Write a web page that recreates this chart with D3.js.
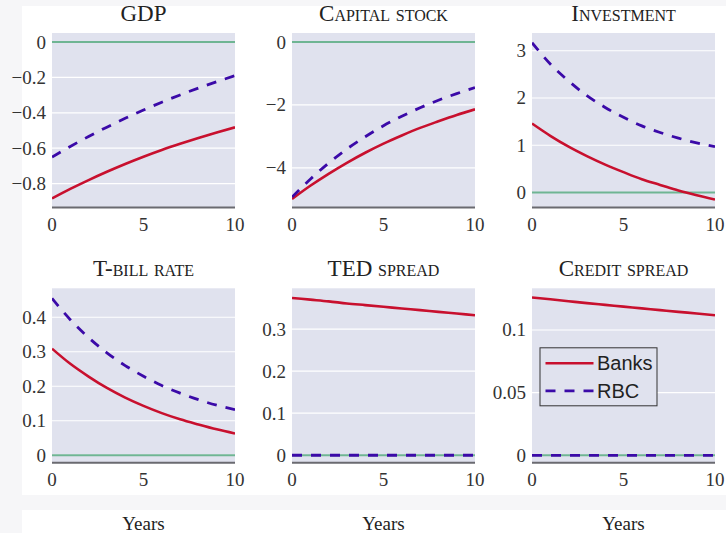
<!DOCTYPE html>
<html>
<head>
<meta charset="utf-8">
<script src="https://cdn.jsdelivr.net/npm/d3@7"></script>
<style>
	body { margin: 0; background: #f6f6f8; }
	svg { display: block; }
	.tick-label { font-family: 'Liberation Serif', 'DejaVu Serif', serif; font-size: 19px; fill: #333; }
	.panel-title { font-family: 'Liberation Serif', serif; font-size: 23px; font-variant: small-caps; fill: #222; }
	.legend-text { font-family: 'Liberation Sans', Arial, sans-serif; font-size: 20px; fill: #222; }
</style>
</head>
<body>
<svg id="chart" width="726" height="533"></svg>
<script>
'use strict';

// horizon, years after the shock
var years = [0, 1, 2, 3, 4, 5, 6, 7, 8, 9, 10];

var panelTitles = ['GDP', 'Capital stock', 'Investment', 'T-bill rate', 'TED spread', 'Credit spread'];
var seriesNames = ['Banks', 'RBC'];

// impulse responses
var banksGdp = [-0.884, -0.830, -0.780, -0.733, -0.689, -0.648, -0.610, -0.575, -0.542, -0.511, -0.482];
var rbcGdp = [-0.650, -0.590, -0.534, -0.481, -0.431, -0.384, -0.340, -0.299, -0.260, -0.224, -0.190];

var banksCapital = [-4.99, -4.57, -4.19, -3.84, -3.52, -3.23, -2.97, -2.73, -2.52, -2.32, -2.14];
var rbcCapital = [-4.93, -4.36, -3.85, -3.40, -3.01, -2.66, -2.36, -2.09, -1.85, -1.64, -1.45];

var banksInvestment = [1.46, 1.20, 0.97, 0.77, 0.59, 0.43, 0.28, 0.16, 0.04, -0.06, -0.15];
var rbcInvestment = [3.17, 2.72, 2.36, 2.05, 1.80, 1.59, 1.41, 1.27, 1.15, 1.05, 0.97];

var banksTbill = [0.309, 0.265, 0.228, 0.195, 0.167, 0.143, 0.122, 0.104, 0.089, 0.075, 0.063];
var rbcTbill = [0.455, 0.393, 0.341, 0.297, 0.260, 0.229, 0.202, 0.180, 0.161, 0.145, 0.132];

var banksTed = [0.374, 0.370, 0.366, 0.361, 0.357, 0.353, 0.349, 0.345, 0.341, 0.337, 0.333];
var rbcTed = [0, 0, 0, 0, 0, 0, 0, 0, 0, 0, 0];

var banksCredit = [0.1260, 0.1245, 0.1230, 0.1215, 0.1201, 0.1187, 0.1173, 0.1159, 0.1145, 0.1132, 0.1118];
var rbcCredit = [0, 0, 0, 0, 0, 0, 0, 0, 0, 0, 0];

// axis limits and ticks
var xDomain = [0, 10];
var xTicks = [0, 5, 10];
var yDomains = [[-0.935, 0.051], [-5.26, 0.287], [-0.318, 3.376], [-0.022, 0.484], [-0.018, 0.397], [-0.006, 0.1333]];
var yTicks = [[0, -0.2, -0.4, -0.6, -0.8], [0, -2, -4], [0, 1, 2, 3], [0, 0.1, 0.2, 0.3, 0.4], [0, 0.1, 0.2, 0.3], [0, 0.05, 0.1]];

var colors = { banks: '#c8102e', rbc: '#3b0aa8', zero: '#6fb593', plot: '#e0e2ee', axis: '#6a6a70' };

var panels = [
	{ title: panelTitles[0], banks: banksGdp, rbc: rbcGdp },
	{ title: panelTitles[1], banks: banksCapital, rbc: rbcCapital },
	{ title: panelTitles[2], banks: banksInvestment, rbc: rbcInvestment },
	{ title: panelTitles[3], banks: banksTbill, rbc: rbcTbill },
	{ title: panelTitles[4], banks: banksTed, rbc: rbcTed },
	{ title: panelTitles[5], banks: banksCredit, rbc: rbcCredit }
];

// layout
var colLeft = [52, 292, 532];
var rowTop = [33, 288.3];
var plotW = 183, plotH = 174.5;

var svg = d3.select('#chart');

// white sheets behind the figure
svg.append('rect').attr('x', 22).attr('y', 6).attr('width', 704).attr('height', 489).attr('fill', '#fff');
svg.append('rect').attr('x', 22).attr('y', 510).attr('width', 704).attr('height', 23).attr('fill', '#fff');

var fmt = d3.format('');

panels.forEach(function(p, i){
	var col = i % 3, row = Math.floor(i / 3);
	var g = svg.append('g')
		.attr('transform', 'translate(' + colLeft[col] + ',' + rowTop[row] + ')');

	var x = d3.scaleLinear().domain(xDomain).range([0, plotW]);
	var y = d3.scaleLinear().domain(yDomains[i]).range([plotH, 0]);

	g.append('rect')
		.attr('width', plotW).attr('height', plotH)
		.attr('fill', colors.plot);

	g.append('clipPath').attr('id', 'clip' + i)
		.append('rect').attr('width', plotW).attr('height', plotH);

	// horizontal grid
	g.selectAll('line.grid')
		.data(yTicks[i])
		.enter()
		.append('line')
			.attr('class', 'grid')
			.attr('x1', 0).attr('x2', plotW)
			.attr('y1', function(d){ return y(d); })
			.attr('y2', function(d){ return y(d); })
			.attr('stroke', '#fff')
			.attr('stroke-width', 1.2);

	// zero line
	g.append('line')
		.attr('x1', 0).attr('x2', plotW)
		.attr('y1', y(0)).attr('y2', y(0))
		.attr('stroke', colors.zero)
		.attr('stroke-width', 2);

	// bottom axis line
	g.append('line')
		.attr('x1', 0).attr('x2', plotW)
		.attr('y1', plotH).attr('y2', plotH)
		.attr('stroke', colors.axis)
		.attr('stroke-width', 2);

	var line = d3.line()
		.x(function(d, k){ return x(years[k]); })
		.y(function(d){ return y(d); })
		.curve(d3.curveMonotoneX);

	var lines = g.append('g').attr('clip-path', 'url(#clip' + i + ')');
	lines.append('path')
		.datum(p.banks)
		.attr('d', line)
		.attr('fill', 'none')
		.attr('stroke', colors.banks)
		.attr('stroke-width', 2.6);
	lines.append('path')
		.datum(p.rbc)
		.attr('d', line)
		.attr('fill', 'none')
		.attr('stroke', colors.rbc)
		.attr('stroke-width', 2.8)
		.attr('stroke-dasharray', '10,9');

	// y tick labels
	g.selectAll('text.ytick')
		.data(yTicks[i])
		.enter()
		.append('text')
			.attr('class', 'tick-label ytick')
			.attr('x', -6)
			.attr('y', function(d){ return y(d); })
			.attr('dy', '0.34em')
			.attr('text-anchor', 'end')
			.text(function(d){ return fmt(d); });

	// x tick labels
	g.selectAll('text.xtick')
		.data(xTicks)
		.enter()
		.append('text')
			.attr('class', 'tick-label xtick')
			.attr('x', function(d){ return x(d); })
			.attr('y', plotH + 23)
			.attr('text-anchor', 'middle')
			.text(function(d){ return d; });

	g.append('text')
		.attr('class', 'panel-title')
		.attr('x', plotW / 2)
		.attr('y', -12)
		.attr('text-anchor', 'middle')
		.text(p.title);

	if (row === 1) {
		svg.append('text')
			.attr('class', 'tick-label')
			.attr('x', colLeft[col] + plotW / 2)
			.attr('y', 530)
			.attr('text-anchor', 'middle')
			.style('fill', '#222')
			.text('Years');
	}

	// legend sits in the last panel
	if (i === panels.length - 1) {
		var lg = g.append('g').attr('transform', 'translate(8,59.5)');
		lg.append('rect')
			.attr('width', 117).attr('height', 58)
			.attr('fill', colors.plot)
			.attr('stroke', '#333')
			.attr('stroke-width', 1);
		seriesNames.forEach(function(name, k){
			var ly = 15.5 + k * 27.5;
			lg.append('line')
				.attr('x1', 5.5).attr('x2', 53.5)
				.attr('y1', ly).attr('y2', ly)
				.attr('stroke', k === 0 ? colors.banks : colors.rbc)
				.attr('stroke-width', k === 0 ? 2.6 : 2.8)
				.attr('stroke-dasharray', k === 0 ? null : '10,9');
			lg.append('text')
				.attr('class', 'legend-text')
				.attr('x', 57)
				.attr('y', ly)
				.attr('dy', '0.36em')
				.text(name);
		});
	}
});
</script>
</body>
</html>
